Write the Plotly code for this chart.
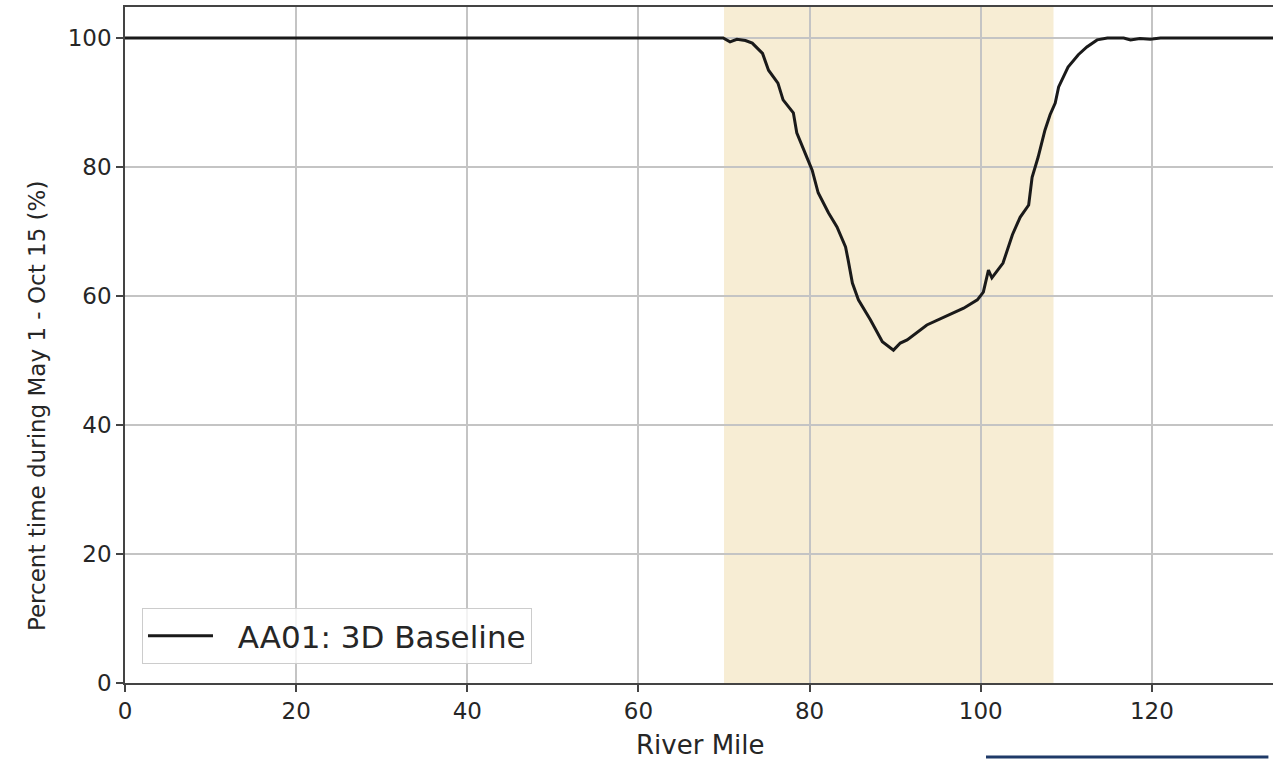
import plotly.graph_objects as go

# ---- data ----
river_mile = [0, 69.9, 70.7, 71.5, 72.5, 73.3, 74.5, 75.2, 76.3, 76.9, 78.1, 78.5,
              79.8, 80.3, 81.0, 82.2, 83.2, 84.2, 84.5, 85.0, 85.7, 87.1, 88.5,
              89.8, 90.6, 91.4, 93.7, 95.6, 98.0, 99.6, 100.3, 100.9, 101.3,
              102.6, 103.7, 104.6, 105.6, 106.0, 106.7, 107.5, 108.1, 108.7,
              109.1, 110.2, 111.4, 112.4, 113.6, 114.8, 116.7, 117.5, 118.6,
              119.8, 121.0, 135.0]
percent_time = [100, 100, 99.4, 99.8, 99.6, 99.2, 97.6, 95.0, 93.0, 90.4, 88.4, 85.3,
                81.1, 79.5, 76.0, 72.9, 70.7, 67.6, 65.6, 62.0, 59.4, 56.3, 52.9,
                51.6, 52.7, 53.2, 55.5, 56.6, 58.1, 59.4, 60.6, 64.0, 62.8,
                65.1, 69.5, 72.2, 74.1, 78.4, 81.5, 85.7, 88.1, 89.9,
                92.4, 95.5, 97.4, 98.6, 99.7, 100.0, 100.0, 99.7, 99.9,
                99.8, 100.0, 100.0]
series_name = "AA01: 3D Baseline"
shade_start = 70.0
shade_end = 108.5
x_ticks = [0, 20, 40, 60, 80, 100, 120]
y_ticks = [0, 20, 40, 60, 80, 100]
x_title = "River Mile"
y_title = "Percent time during May 1 - Oct 15 (%)"

FONT = "DejaVu Sans"
TXT = "#262626"

fig = go.Figure()
fig.add_trace(go.Scatter(
    x=river_mile, y=percent_time, mode="lines",
    name="\u00a0\u00a0" + series_name,
    line=dict(color="#1a1a1a", width=3), showlegend=True,
))

fig.add_shape(type="rect", xref="x", yref="paper", x0=shade_start, x1=shade_end,
              y0=0, y1=1, fillcolor="#f7edd4", line=dict(width=0), layer="below")

# decorative line below the chart (as in the reference picture)
fig.add_shape(type="line", xref="paper", yref="paper", x0=0.750, x1=0.996,
              y0=-0.1095, y1=-0.1095, line=dict(color="#1f3a68", width=3))

fig.add_annotation(text=x_title, xref="paper", yref="paper", x=0.5017, y=-0.092,
                   xanchor="center", yanchor="middle", showarrow=False,
                   font=dict(family=FONT, size=26, color=TXT))
fig.add_annotation(text=y_title, xref="paper", yref="paper", x=-0.0767, y=0.411,
                   xanchor="center", yanchor="middle", showarrow=False, textangle=-90,
                   font=dict(family=FONT, size=23, color=TXT))

fig.update_layout(
    width=1273, height=760,
    margin=dict(l=125, r=0, t=7, b=77),
    paper_bgcolor="white", plot_bgcolor="white",
    font=dict(family=FONT, color=TXT),
    legend=dict(x=0.0148, y=0.028, xanchor="left", yanchor="bottom",
                bgcolor="rgba(255,255,255,0.8)", bordercolor="#cccccc", borderwidth=1,
                font=dict(family=FONT, size=31, color=TXT), itemwidth=65),
    xaxis=dict(range=[0, 134.15], tickvals=x_ticks, ticktext=[str(v) for v in x_ticks],
               showgrid=True, gridcolor="#c4c4c4", gridwidth=1.5, zeroline=False,
               showline=True, linecolor="#444444", linewidth=1.5, mirror=True,
               ticks="outside", ticklen=7, tickwidth=1.5, tickcolor="#444444",
               tickfont=dict(family=FONT, size=23, color=TXT)),
    yaxis=dict(range=[0, 104.8], tickvals=y_ticks, ticktext=[str(v) for v in y_ticks],
               showgrid=True, gridcolor="#c4c4c4", gridwidth=1.5, zeroline=False,
               showline=True, linecolor="#444444", linewidth=1.5,
               ticks="outside", ticklen=7, tickwidth=1.5, tickcolor="#444444",
               tickfont=dict(family=FONT, size=23, color=TXT)),
)

fig.write_html(
    "out.html",
    config={"displayModeBar": False},
    post_script="document.body.style.margin='0';document.body.style.overflow='hidden';",
)
